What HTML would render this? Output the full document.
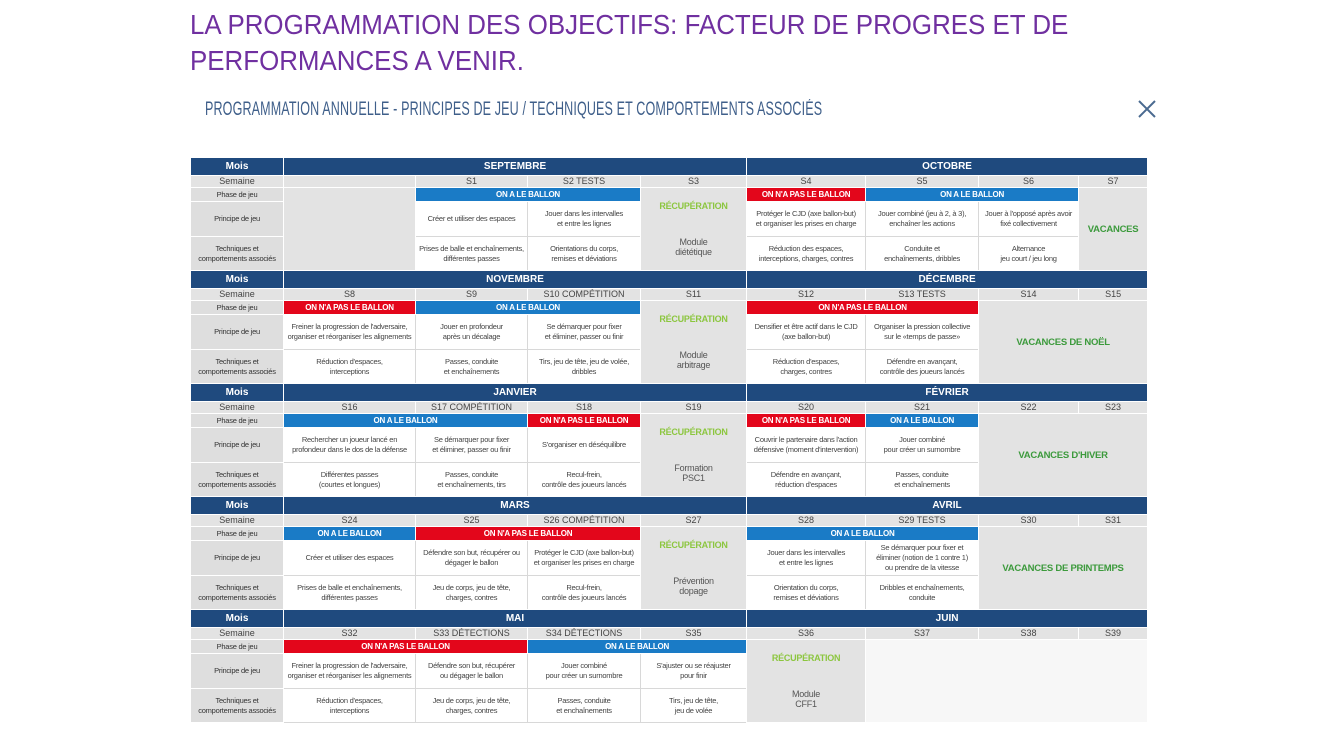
<!DOCTYPE html>
<html><head><meta charset="utf-8">
<style>
body{margin:0;width:1334px;height:750px;background:#fff;position:relative;overflow:hidden;font-family:"Liberation Sans Narrow","Liberation Sans",sans-serif;}
.t{position:absolute;left:190px;color:#7030a0;font-family:"Liberation Sans",sans-serif;font-size:28px;white-space:nowrap;transform-origin:left top;transform:scaleX(0.925);line-height:30px}
.sub{position:absolute;left:205px;top:99px;color:#3f5f8a;font-size:19px;white-space:nowrap;transform-origin:left top;transform:scaleX(0.66);letter-spacing:0.2px}
.x{position:absolute;left:1136px;top:98px;width:22px;height:22px}
table{position:absolute;left:190px;border-collapse:collapse;table-layout:fixed;width:957px}
td{border:1px solid #d8d8d8;padding:0;text-align:center;vertical-align:middle;font-size:7.5px;letter-spacing:-0.25px;color:#444;line-height:10px;overflow:hidden;white-space:nowrap}
tr.m td{background:#1f4a7e;color:#fff;font-weight:bold;font-size:10px;letter-spacing:0;height:17px;line-height:17px;border-color:#fff}
tr.s td{background:#e3e3e3;height:11px;line-height:11px;font-size:9px;letter-spacing:0;border-color:#fff}
tr.p td{height:13px;line-height:13px}
tr.q td{height:34px}
tr.r td{height:33px}
td.l{background:#dedede;color:#333;border-color:#fff}
td.b{background:#1a7bc6;color:#fff;font-weight:bold;font-size:8px;border-color:#fff}
td.rd{background:#e3061b;color:#fff;font-weight:bold;font-size:8px;border-color:#fff}
td.g{background:#e3e3e3;border-color:#fff}
td.rc{background:#e3e3e3;border-color:#fff;font-size:9px;color:#555;line-height:10px !important}
td.rc b{color:#8cc63f;display:block;margin-bottom:26px;font-size:9px}
td.v{background:#e3e3e3;color:#3c9a3c;font-weight:bold;font-size:9.5px;border-color:#fff}
</style></head><body>
<div class="t" style="top:10px">LA PROGRAMMATION DES OBJECTIFS: FACTEUR DE PROGRES ET DE</div>
<div class="t" style="top:46px">PERFORMANCES A VENIR.</div>
<div class="sub">PROGRAMMATION ANNUELLE - PRINCIPES DE JEU / TECHNIQUES ET COMPORTEMENTS ASSOCIÉS</div>
<svg class="x" viewBox="0 0 22 22"><path d="M3 3L19 19M19 3L3 19" stroke="#4a6a90" stroke-width="2"/></svg>

<table style="top:157px">
<colgroup><col style="width:93px"><col style="width:132px"><col style="width:112px"><col style="width:113px"><col style="width:106px"><col style="width:119px"><col style="width:113px"><col style="width:100px"><col style="width:69px"></colgroup>
<tr class="m"><td>Mois</td><td colspan="4">SEPTEMBRE</td><td colspan="4">OCTOBRE</td></tr>
<tr class="s"><td>Semaine</td><td></td><td>S1</td><td>S2 TESTS</td><td>S3</td><td>S4</td><td>S5</td><td>S6</td><td>S7</td></tr>
<tr class="p"><td class="l">Phase de jeu</td><td class="g" rowspan="3"></td><td class="b" colspan="2">ON A LE BALLON</td><td class="rc" rowspan="3"><b>RÉCUPÉRATION</b>Module<br>diététique</td><td class="rd">ON N'A PAS LE BALLON</td><td class="b" colspan="2">ON A LE BALLON</td><td class="v" rowspan="3">VACANCES</td></tr>
<tr class="q"><td class="l">Principe de jeu</td><td>Créer et utiliser des espaces</td><td>Jouer dans les intervalles<br>et entre les lignes</td><td>Protéger le CJD (axe ballon-but)<br>et organiser les prises en charge</td><td>Jouer combiné (jeu à 2, à 3),<br>enchaîner les actions</td><td>Jouer à l'opposé après avoir<br>fixé collectivement</td></tr>
<tr class="r"><td class="l">Techniques et<br>comportements associés</td><td>Prises de balle et enchaînements,<br>différentes passes</td><td>Orientations du corps,<br>remises et déviations</td><td>Réduction des espaces,<br>interceptions, charges, contres</td><td>Conduite et<br>enchaînements, dribbles</td><td>Alternance<br>jeu court / jeu long</td></tr>
</table>

<table style="top:270px">
<colgroup><col style="width:93px"><col style="width:132px"><col style="width:112px"><col style="width:113px"><col style="width:106px"><col style="width:119px"><col style="width:113px"><col style="width:100px"><col style="width:69px"></colgroup>
<tr class="m"><td>Mois</td><td colspan="4">NOVEMBRE</td><td colspan="4">DÉCEMBRE</td></tr>
<tr class="s"><td>Semaine</td><td>S8</td><td>S9</td><td>S10 COMPÉTITION</td><td>S11</td><td>S12</td><td>S13 TESTS</td><td>S14</td><td>S15</td></tr>
<tr class="p"><td class="l">Phase de jeu</td><td class="rd">ON N'A PAS LE BALLON</td><td class="b" colspan="2">ON A LE BALLON</td><td class="rc" rowspan="3"><b>RÉCUPÉRATION</b>Module<br>arbitrage</td><td class="rd" colspan="2">ON N'A PAS LE BALLON</td><td class="v" colspan="2" rowspan="3">VACANCES DE NOËL</td></tr>
<tr class="q"><td class="l">Principe de jeu</td><td>Freiner la progression de l'adversaire,<br>organiser et réorganiser les alignements</td><td>Jouer en profondeur<br>après un décalage</td><td>Se démarquer pour fixer<br>et éliminer, passer ou finir</td><td>Densifier et être actif dans le CJD<br>(axe ballon-but)</td><td>Organiser la pression collective<br>sur le «temps de passe»</td></tr>
<tr class="r"><td class="l">Techniques et<br>comportements associés</td><td>Réduction d'espaces,<br>interceptions</td><td>Passes, conduite<br>et enchaînements</td><td>Tirs, jeu de tête, jeu de volée,<br>dribbles</td><td>Réduction d'espaces,<br>charges, contres</td><td>Défendre en avançant,<br>contrôle des joueurs lancés</td></tr>
</table>

<table style="top:383px">
<colgroup><col style="width:93px"><col style="width:132px"><col style="width:112px"><col style="width:113px"><col style="width:106px"><col style="width:119px"><col style="width:113px"><col style="width:100px"><col style="width:69px"></colgroup>
<tr class="m"><td>Mois</td><td colspan="4">JANVIER</td><td colspan="4">FÉVRIER</td></tr>
<tr class="s"><td>Semaine</td><td>S16</td><td>S17 COMPÉTITION</td><td>S18</td><td>S19</td><td>S20</td><td>S21</td><td>S22</td><td>S23</td></tr>
<tr class="p"><td class="l">Phase de jeu</td><td class="b" colspan="2">ON A LE BALLON</td><td class="rd">ON N'A PAS LE BALLON</td><td class="rc" rowspan="3"><b>RÉCUPÉRATION</b>Formation<br>PSC1</td><td class="rd">ON N'A PAS LE BALLON</td><td class="b">ON A LE BALLON</td><td class="v" colspan="2" rowspan="3">VACANCES D'HIVER</td></tr>
<tr class="q"><td class="l">Principe de jeu</td><td>Rechercher un joueur lancé en<br>profondeur dans le dos de la défense</td><td>Se démarquer pour fixer<br>et éliminer, passer ou finir</td><td>S'organiser en déséquilibre</td><td>Couvrir le partenaire dans l'action<br>défensive (moment d'intervention)</td><td>Jouer combiné<br>pour créer un surnombre</td></tr>
<tr class="r"><td class="l">Techniques et<br>comportements associés</td><td>Différentes passes<br>(courtes et longues)</td><td>Passes, conduite<br>et enchaînements, tirs</td><td>Recul-frein,<br>contrôle des joueurs lancés</td><td>Défendre en avançant,<br>réduction d'espaces</td><td>Passes, conduite<br>et enchaînements</td></tr>
</table>

<table style="top:496px">
<colgroup><col style="width:93px"><col style="width:132px"><col style="width:112px"><col style="width:113px"><col style="width:106px"><col style="width:119px"><col style="width:113px"><col style="width:100px"><col style="width:69px"></colgroup>
<tr class="m"><td>Mois</td><td colspan="4">MARS</td><td colspan="4">AVRIL</td></tr>
<tr class="s"><td>Semaine</td><td>S24</td><td>S25</td><td>S26 COMPÉTITION</td><td>S27</td><td>S28</td><td>S29 TESTS</td><td>S30</td><td>S31</td></tr>
<tr class="p"><td class="l">Phase de jeu</td><td class="b">ON A LE BALLON</td><td class="rd" colspan="2">ON N'A PAS LE BALLON</td><td class="rc" rowspan="3"><b>RÉCUPÉRATION</b>Prévention<br>dopage</td><td class="b" colspan="2">ON A LE BALLON</td><td class="v" colspan="2" rowspan="3">VACANCES DE PRINTEMPS</td></tr>
<tr class="q"><td class="l">Principe de jeu</td><td>Créer et utiliser des espaces</td><td>Défendre son but, récupérer ou<br>dégager le ballon</td><td>Protéger le CJD (axe ballon-but)<br>et organiser les prises en charge</td><td>Jouer dans les intervalles<br>et entre les lignes</td><td>Se démarquer pour fixer et<br>éliminer (notion de 1 contre 1)<br>ou prendre de la vitesse</td></tr>
<tr class="r"><td class="l">Techniques et<br>comportements associés</td><td>Prises de balle et enchaînements,<br>différentes passes</td><td>Jeu de corps, jeu de tête,<br>charges, contres</td><td>Recul-frein,<br>contrôle des joueurs lancés</td><td>Orientation du corps,<br>remises et déviations</td><td>Dribbles et enchaînements,<br>conduite</td></tr>
</table>

<table style="top:609px">
<colgroup><col style="width:93px"><col style="width:132px"><col style="width:112px"><col style="width:113px"><col style="width:106px"><col style="width:119px"><col style="width:113px"><col style="width:100px"><col style="width:69px"></colgroup>
<tr class="m"><td>Mois</td><td colspan="4">MAI</td><td colspan="4">JUIN</td></tr>
<tr class="s"><td>Semaine</td><td>S32</td><td>S33 DÉTECTIONS</td><td>S34 DÉTECTIONS</td><td>S35</td><td>S36</td><td>S37</td><td>S38</td><td>S39</td></tr>
<tr class="p"><td class="l">Phase de jeu</td><td class="rd" colspan="2">ON N'A PAS LE BALLON</td><td class="b" colspan="2">ON A LE BALLON</td><td class="rc" rowspan="3"><b>RÉCUPÉRATION</b>Module<br>CFF1</td><td rowspan="3" colspan="3" style="background:#f7f7f7;border-color:#fff"></td></tr>
<tr class="q"><td class="l">Principe de jeu</td><td>Freiner la progression de l'adversaire,<br>organiser et réorganiser les alignements</td><td>Défendre son but, récupérer<br>ou dégager le ballon</td><td>Jouer combiné<br>pour créer un surnombre</td><td>S'ajuster ou se réajuster<br>pour finir</td></tr>
<tr class="r"><td class="l">Techniques et<br>comportements associés</td><td>Réduction d'espaces,<br>interceptions</td><td>Jeu de corps, jeu de tête,<br>charges, contres</td><td>Passes, conduite<br>et enchaînements</td><td>Tirs, jeu de tête,<br>jeu de volée</td></tr>
</table>
</body></html>
